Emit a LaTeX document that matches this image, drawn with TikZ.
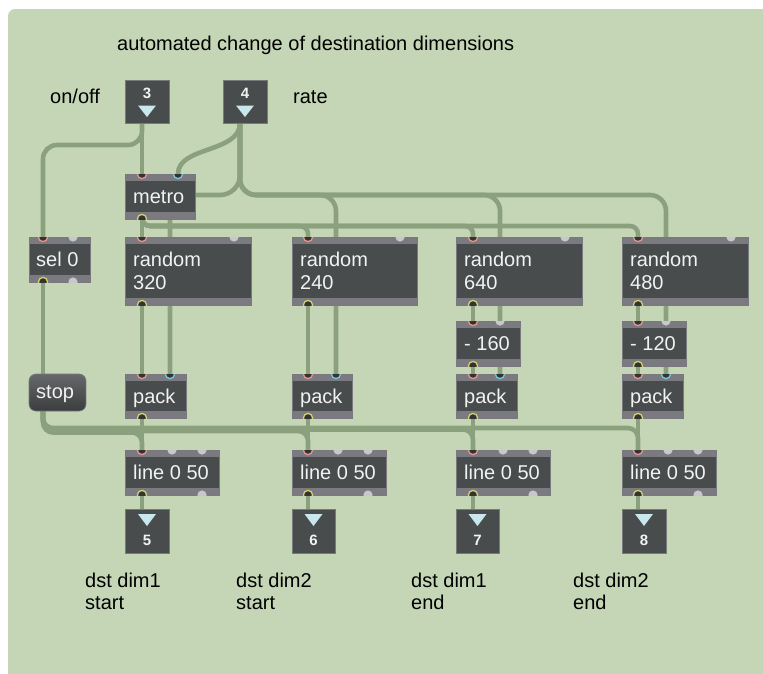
\documentclass[tikz,border=0pt]{standalone}
\usepackage{fontspec}
\setmainfont{Liberation Sans}
\usetikzlibrary{calc,fit}
\definecolor{bg}{RGB}{197,214,183}
\definecolor{wirec}{RGB}{139,161,126}
\definecolor{bodyc}{RGB}{73,76,76}
\definecolor{stripc}{RGB}{122,122,128}
\definecolor{edgec}{RGB}{120,120,126}
\definecolor{portdark}{RGB}{50,52,52}
\definecolor{pinkp}{RGB}{232,150,140}
\definecolor{cyanp}{RGB}{120,200,222}
\definecolor{yelp}{RGB}{214,208,110}
\definecolor{greyp}{RGB}{200,200,204}
\definecolor{tric}{RGB}{200,232,238}
\definecolor{txtw}{RGB}{242,242,242}
\newcommand\maxbox[5]{%
  \node[objbody, fit={(#2,#3) (#4,#5)}] (#1) {};
  \fill[stripc] (#2,#3) rectangle (#4,#3+7);
  \fill[stripc] (#2,#5-7) rectangle (#4,#5);
  \draw[boxedge] (#2,#3) rectangle (#4,#5);
}
\newcommand\inport[2]{%
  \begin{scope}\clip ($(#1)+(-7,0)$) rectangle ($(#1)+(7,7)$);
  \filldraw[#2] (#1) circle (4.6);\end{scope}}
\newcommand\outport[2]{%
  \begin{scope}\clip ($(#1)+(-7,-7)$) rectangle ($(#1)+(7,0)$);
  \filldraw[#2] (#1) circle (4.6);\end{scope}}
\begin{document}
\begin{tikzpicture}[x=1pt,y=-1pt,
  font=\fontsize{20}{23}\selectfont,
  wire/.style={draw=wirec, line width=4.6pt, line cap=round},
  objbody/.style={fill=bodyc, draw=none, inner sep=0pt},
  boxedge/.style={draw=edgec, line width=0.7pt},
  lbl/.style={anchor=base west, inner sep=0pt, text=black},
  btxt/.style={anchor=base west, inner sep=0pt, text=txtw},
  num/.style={inner sep=0pt, text=txtw, font=\fontsize{15}{15}\selectfont\bfseries},
  hot/.style={fill=portdark, draw=pinkp, line width=1.3pt},
  cold/.style={fill=portdark, draw=cyanp, line width=1.3pt},
  outp/.style={fill=portdark, draw=yelp, line width=1.3pt},
  free/.style={fill=greyp, draw=none},
  tri/.style={fill=tric},
  stopbtn/.style={rounded corners=7pt, top color=stripc!60!bodyc, bottom color=bodyc!80!black, draw=edgec, line width=0.7pt, inner sep=0pt}
]
\useasboundingbox (0,0) rectangle (763,673);
\fill[white] (0,0) rectangle (763,673);
\fill[bg, rounded corners=7pt] (8,9) rectangle (780,690);

% ---------- port coordinates ----------
\coordinate (in3-out) at (142,123);
\coordinate (in4-out) at (240,123);
\coordinate (metro-in1) at (142,174);
\coordinate (metro-in2) at (178,174);
\coordinate (metro-out) at (142,219);
\coordinate (sel-in1) at (43,237);
\coordinate (sel-in2) at (73,237);
\coordinate (sel-out1) at (43,282);
\coordinate (sel-out2) at (73,282);
\coordinate (r1-in1) at (142,237); \coordinate (r1-in2) at (234,237); \coordinate (r1-out) at (142,305);
\coordinate (r2-in1) at (308,237); \coordinate (r2-in2) at (400,237); \coordinate (r2-out) at (308,305);
\coordinate (r3-in1) at (473,237); \coordinate (r3-in2) at (565,237); \coordinate (r3-out) at (473,305);
\coordinate (r4-in1) at (638,237); \coordinate (r4-in2) at (731,237); \coordinate (r4-out) at (638,305);
\coordinate (m3-in1) at (473,321); \coordinate (m3-in2) at (500,321); \coordinate (m3-out) at (473,366);
\coordinate (m4-in1) at (638,321); \coordinate (m4-in2) at (666,321); \coordinate (m4-out) at (638,366);
\coordinate (stop-top) at (43,374);
\coordinate (stop-bot) at (43,411);
\coordinate (p1-in1) at (142,374); \coordinate (p1-in2) at (170,374); \coordinate (p1-out) at (142,418);
\coordinate (p2-in1) at (308,374); \coordinate (p2-in2) at (336,374); \coordinate (p2-out) at (308,418);
\coordinate (p3-in1) at (473,374); \coordinate (p3-in2) at (500,374); \coordinate (p3-out) at (473,418);
\coordinate (p4-in1) at (638,374); \coordinate (p4-in2) at (666,374); \coordinate (p4-out) at (638,418);
\coordinate (l1-in1) at (142,450); \coordinate (l1-in2) at (172,450); \coordinate (l1-in3) at (202,450);
\coordinate (l1-out1) at (142,495); \coordinate (l1-out2) at (202,495);
\coordinate (l2-in1) at (308,450); \coordinate (l2-in2) at (338,450); \coordinate (l2-in3) at (368,450);
\coordinate (l2-out1) at (308,495); \coordinate (l2-out2) at (368,495);
\coordinate (l3-in1) at (473,450); \coordinate (l3-in2) at (503,450); \coordinate (l3-in3) at (533,450);
\coordinate (l3-out1) at (473,495); \coordinate (l3-out2) at (533,495);
\coordinate (l4-in1) at (638,450); \coordinate (l4-in2) at (668,450); \coordinate (l4-in3) at (698,450);
\coordinate (l4-out1) at (638,495); \coordinate (l4-out2) at (698,495);
\coordinate (o5-in) at (142,509);
\coordinate (o6-in) at (308,509);
\coordinate (o7-in) at (473,509);
\coordinate (o8-in) at (638,509);
\coordinate (selbus) at (0,145);
\coordinate (ratebus) at (0,195);
\coordinate (metbus) at (0,226);
\coordinate (stopbusA) at (0,428);
\coordinate (stopbusB) at (0,429.5);
\coordinate (stopbusC) at (0,431);
\coordinate (stopbusD) at (0,432.5);

% ---------- wires ----------
\draw[wire] (in3-out) -- (metro-in1);
\draw[wire, rounded corners=14pt] (in3-out) -- (in3-out |- selbus) -- (sel-in1 |- selbus) -- (sel-in1);
\draw[wire] (in4-out) .. controls ($(in4-out)+(0,30)$) and ($(metro-in2)+(0,-28)$) .. (metro-in2);
\draw[wire, rounded corners=20pt] (in4-out) -- (in4-out |- ratebus) -- (p1-in2 |- ratebus) -- (p1-in2);
\draw[wire, rounded corners=16pt] (in4-out) -- (in4-out |- ratebus) -- (p2-in2 |- ratebus) -- (p2-in2);
\draw[wire, rounded corners=16pt] (in4-out) -- (in4-out |- ratebus) -- (p3-in2 |- ratebus) -- (p3-in2);
\draw[wire, rounded corners=16pt] (in4-out) -- (in4-out |- ratebus) -- (p4-in2 |- ratebus) -- (p4-in2);
\draw[wire] (metro-out) -- (r1-in1);
\draw[wire, rounded corners=8pt] (metro-out) -- (metro-out |- metbus) -- (r2-in1 |- metbus) -- (r2-in1);
\draw[wire, rounded corners=8pt] (metro-out) -- (metro-out |- metbus) -- (r3-in1 |- metbus) -- (r3-in1);
\draw[wire, rounded corners=8pt] (metro-out) -- (metro-out |- metbus) -- (r4-in1 |- metbus) -- (r4-in1);
\draw[wire] (sel-out1) -- (stop-top);
\draw[wire, rounded corners=10pt] (stop-bot) -- (stop-bot |- stopbusD) -- (l1-in1 |- stopbusD) -- (l1-in1);
\draw[wire, rounded corners=10pt] (stop-bot) -- (stop-bot |- stopbusC) -- (l2-in1 |- stopbusC) -- (l2-in1);
\draw[wire, rounded corners=10pt] (stop-bot) -- (stop-bot |- stopbusB) -- (l3-in1 |- stopbusB) -- (l3-in1);
\draw[wire, rounded corners=10pt] (stop-bot) -- (stop-bot |- stopbusA) -- (l4-in1 |- stopbusA) -- (l4-in1);
\draw[wire] (r1-out) -- (p1-in1);
\draw[wire] (r2-out) -- (p2-in1);
\draw[wire] (r3-out) -- (m3-in1);
\draw[wire] (r4-out) -- (m4-in1);
\draw[wire] (m3-out) -- (p3-in1);
\draw[wire] (m4-out) -- (p4-in1);
\draw[wire] (p1-out) -- (l1-in1);
\draw[wire] (p2-out) -- (l2-in1);
\draw[wire] (p3-out) -- (l3-in1);
\draw[wire] (p4-out) -- (l4-in1);
\draw[wire] (l1-out1) -- (o5-in);
\draw[wire] (l2-out1) -- (o6-in);
\draw[wire] (l3-out1) -- (o7-in);
\draw[wire] (l4-out1) -- (o8-in);

% ---------- inlet boxes ----------
\node[objbody, draw=edgec, line width=0.7pt, fit={(125,80) (169,123)}] (in3) {};
\node[num] (in3-n) at (147,93) {3};
\fill[tri] (138,105.5) -- (156,105.5) -- (147,117) -- cycle;
\node[objbody, draw=edgec, line width=0.7pt, fit={(223,80) (267,123)}] (in4) {};
\node[num] (in4-n) at (245,93) {4};
\fill[tri] (236,105.5) -- (254,105.5) -- (245,117) -- cycle;

% ---------- objects ----------
\maxbox{metro}{125}{174}{195}{219}
\maxbox{sel}{29}{237}{90}{282}
\maxbox{r1}{125}{237}{251}{305}
\maxbox{r2}{292}{237}{417}{305}
\maxbox{r3}{456}{237}{582}{305}
\maxbox{r4}{622}{237}{748}{305}
\maxbox{m3}{456}{321}{520}{366}
\maxbox{m4}{622}{321}{686}{366}
\maxbox{p1}{125}{374}{186}{418}
\maxbox{p2}{292}{374}{352}{418}
\maxbox{p3}{456}{374}{517}{418}
\maxbox{p4}{622}{374}{683}{418}
\maxbox{l1}{125}{450}{219}{495}
\maxbox{l2}{292}{450}{386}{495}
\maxbox{l3}{456}{450}{550}{495}
\maxbox{l4}{622}{450}{716}{495}
\node[stopbtn, fit={(29,374) (86,411)}] (stop) {};

% ---------- outlet boxes ----------
\node[objbody, draw=edgec, line width=0.7pt, fit={(125,509) (169,553)}] (o5) {};
\fill[tri] (138,514) -- (156,514) -- (147,526) -- cycle;
\node[num] (o5-n) at (147,540) {5};
\node[objbody, draw=edgec, line width=0.7pt, fit={(292,509) (335,553)}] (o6) {};
\fill[tri] (304.5,514) -- (322.5,514) -- (313.5,526) -- cycle;
\node[num] (o6-n) at (313.5,540) {6};
\node[objbody, draw=edgec, line width=0.7pt, fit={(456,509) (499,553)}] (o7) {};
\fill[tri] (468.5,514) -- (486.5,514) -- (477.5,526) -- cycle;
\node[num] (o7-n) at (477.5,540) {7};
\node[objbody, draw=edgec, line width=0.7pt, fit={(622,509) (666,553)}] (o8) {};
\fill[tri] (635,514) -- (653,514) -- (644,526) -- cycle;
\node[num] (o8-n) at (644,540) {8};

% ---------- ports ----------
\inport{metro-in1}{hot} \inport{metro-in2}{cold} \outport{metro-out}{outp}
\inport{sel-in1}{hot} \inport{sel-in2}{free} \outport{sel-out1}{outp} \outport{sel-out2}{free}
\inport{r1-in1}{hot} \inport{r1-in2}{free} \outport{r1-out}{outp}
\inport{r2-in1}{hot} \inport{r2-in2}{free} \outport{r2-out}{outp}
\inport{r3-in1}{hot} \inport{r3-in2}{free} \outport{r3-out}{outp}
\inport{r4-in1}{hot} \inport{r4-in2}{free} \outport{r4-out}{outp}
\inport{m3-in1}{hot} \inport{m3-in2}{free} \outport{m3-out}{outp}
\inport{m4-in1}{hot} \inport{m4-in2}{free} \outport{m4-out}{outp}
\inport{p1-in1}{hot} \inport{p1-in2}{cold} \outport{p1-out}{outp}
\inport{p2-in1}{hot} \inport{p2-in2}{cold} \outport{p2-out}{outp}
\inport{p3-in1}{hot} \inport{p3-in2}{cold} \outport{p3-out}{outp}
\inport{p4-in1}{hot} \inport{p4-in2}{cold} \outport{p4-out}{outp}
\inport{l1-in1}{hot} \inport{l1-in2}{free} \inport{l1-in3}{free} \outport{l1-out1}{outp} \outport{l1-out2}{free}
\inport{l2-in1}{hot} \inport{l2-in2}{free} \inport{l2-in3}{free} \outport{l2-out1}{outp} \outport{l2-out2}{free}
\inport{l3-in1}{hot} \inport{l3-in2}{free} \inport{l3-in3}{free} \outport{l3-out1}{outp} \outport{l3-out2}{free}
\inport{l4-in1}{hot} \inport{l4-in2}{free} \inport{l4-in3}{free} \outport{l4-out1}{outp} \outport{l4-out2}{free}

% ---------- box texts ----------
\node[btxt] (metro-t) at (133,203) {metro};
\node[btxt] (sel-t) at (36,266) {sel 0};
\node[btxt] (r1-t) at (133,266) {random};
\node[btxt] (r1-t2) at (133,289) {320};
\node[btxt] (r2-t) at (300,266) {random};
\node[btxt] (r2-t2) at (300,289) {240};
\node[btxt] (r3-t) at (464,266) {random};
\node[btxt] (r3-t2) at (464,289) {640};
\node[btxt] (r4-t) at (630,266) {random};
\node[btxt] (r4-t2) at (630,289) {480};
\node[btxt] (m3-t) at (464,350) {- 160};
\node[btxt] (m4-t) at (630,350) {- 120};
\node[btxt] (p1-t) at (133,403) {pack};
\node[btxt] (p2-t) at (300,403) {pack};
\node[btxt] (p3-t) at (464,403) {pack};
\node[btxt] (p4-t) at (630,403) {pack};
\node[btxt] (l1-t) at (133,479) {line 0 50};
\node[btxt] (l2-t) at (300,479) {line 0 50};
\node[btxt] (l3-t) at (464,479) {line 0 50};
\node[btxt] (l4-t) at (630,479) {line 0 50};
\node[btxt] (stop-t) at (36,398) {stop};

% ---------- comments ----------
\node[lbl] (title) at (117,50) {automated change of destination dimensions};
\node[lbl] (onoff) at (50,103) {on/off};
\node[lbl] (rate) at (293,103) {rate};
\node[lbl] (d1) at (85,587) {dst dim1};
\node[lbl] (d1b) at (85,609) {start};
\node[lbl] (d2) at (236,587) {dst dim2};
\node[lbl] (d2b) at (236,609) {start};
\node[lbl] (d3) at (411,587) {dst dim1};
\node[lbl] (d3b) at (411,609) {end};
\node[lbl] (d4) at (573,587) {dst dim2};
\node[lbl] (d4b) at (573,609) {end};
\end{tikzpicture}
\end{document}
